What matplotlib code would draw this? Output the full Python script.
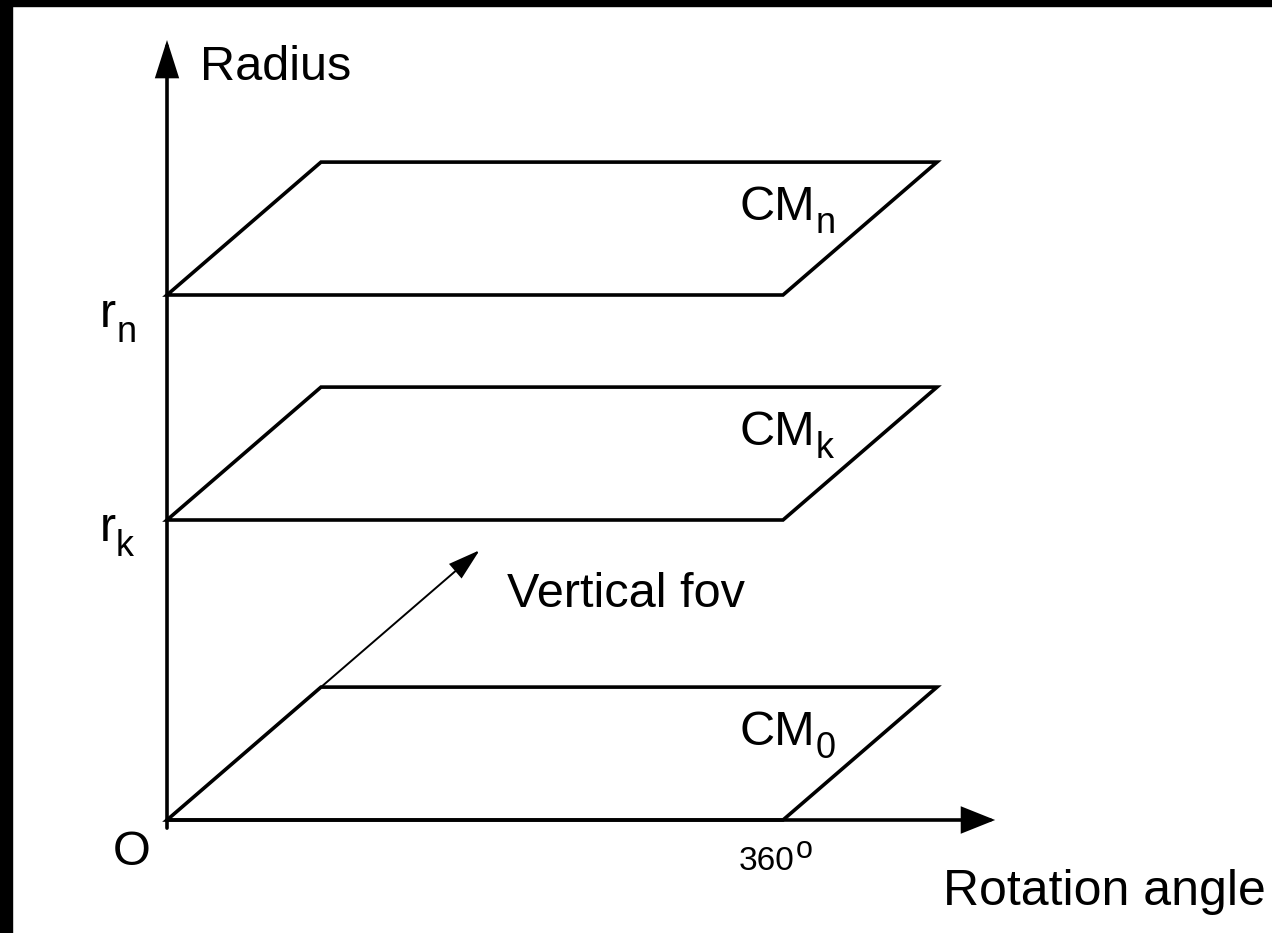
import matplotlib
matplotlib.use("Agg")
import matplotlib.pyplot as plt
from matplotlib.patches import Polygon, FancyArrowPatch, Rectangle

# ---------------- data ----------------
plane_main = ["CM", "CM", "CM"]
plane_subs = ["0", "k", "n"]
plane_radius = [0.0, 1.0, 1.75]          # radius level of each cube map plane
radius_tick_subs = ["k", "n"]
radius_tick_values = [1.0, 1.75]
angle_span = 360                          # rotation angle covered by each plane
fov_depth = (90.0, 0.443)                 # vertical fov direction (deg, radius units)
fov_arrow_scale = 2.03                    # length of the fov arrow in depth units
y_axis_top = 2.6
x_axis_end = 484
origin_label = "O"
angle_tick_label = "360"
x_label = "Rotation angle"
y_label = "Radius"
fov_label = "Vertical fov"

# ---------------- layout ----------------
W, H, DPI = 1272, 933, 100
X0_PX, Y0_PX = 167, 820
PX_PER_DEG, PX_PER_R = 1.7111, 300.0

plt.rcParams['font.family'] = ['Liberation Sans', 'DejaVu Sans']
fig = plt.figure(figsize=(W / DPI, H / DPI), dpi=DPI, facecolor="white")
ax = fig.add_axes([0, 0, 1, 1])
ax.set_xlim(-X0_PX / PX_PER_DEG, (W - X0_PX) / PX_PER_DEG)
ax.set_ylim((Y0_PX - H) / PX_PER_R, Y0_PX / PX_PER_R)
ax.axis("off")

LW = 2.6
BIG, SUB = 35, 26

# black frame strips (left and top)
fig.patches.append(Rectangle((0, 0), 12 / W, 1, transform=fig.transFigure,
                             color="black", zorder=10))
fig.patches.append(Rectangle((0, 1 - 6 / H), 1, 6 / H, transform=fig.transFigure,
                             color="black", zorder=10))


def arrow(p0, p1, lw, hl, hw):
    a = FancyArrowPatch(p0, p1, arrowstyle=f"-|>,head_length={hl},head_width={hw}",
                        mutation_scale=1, lw=lw, color="black",
                        shrinkA=0, shrinkB=0, joinstyle="miter", zorder=5)
    ax.add_patch(a)


# axes
arrow((0, -0.027), (0, y_axis_top), LW, 22, 7.0)
arrow((0, 0), (x_axis_end, 0), LW, 20, 8)

# planes
dx, dy = fov_depth
for r in plane_radius:
    pts = [(0, r), (angle_span, r), (angle_span + dx, r + dy), (dx, r + dy)]
    ax.add_patch(Polygon(pts, closed=True, fill=False, lw=LW, ec="black",
                         joinstyle="miter", zorder=4))

# vertical fov arrow
arrow((0, 0), (dx * fov_arrow_scale, dy * fov_arrow_scale), 1.4, 20, 6)


def sub_label(main, sub, xy, off, drop, subsize=SUB):
    t = ax.annotate(main, xy=xy, xytext=off, textcoords="offset pixels",
                    fontsize=BIG, va="baseline", ha="left")
    ax.annotate(sub, xy=(1, 0), xycoords=t, xytext=(0, -drop),
                textcoords="offset pixels", fontsize=subsize,
                va="bottom", ha="left")


# plane labels
for m, s, r in zip(plane_main, plane_subs, plane_radius):
    sub_label(m, s, (angle_span + dx, r + dy), (-197, -58), 11)

# radius ticks
for s, r, boff in zip(radius_tick_subs, radius_tick_values, [-21, -32]):
    sub_label("r", s, (0, r), (-67, boff), 13)

# other labels
ax.annotate(origin_label, xy=(0, 0), xytext=(-35, -45), textcoords="offset pixels",
            fontsize=BIG, va="baseline", ha="center")
t360 = ax.annotate(angle_tick_label, xy=(angle_span, 0), xytext=(-44, -50),
                   textcoords="offset pixels", fontsize=24, va="baseline", ha="left")
ax.annotate("o", xy=(1, 0), xycoords=t360, xytext=(1, 12), textcoords="offset pixels",
            fontsize=22, va="bottom", ha="left")
ax.annotate(fov_label, xy=(dx * fov_arrow_scale, dy * fov_arrow_scale),
            xytext=(27, -57), textcoords="offset pixels",
            fontsize=BIG, va="baseline", ha="left")
fig.text(200 / W, 1 - 80 / H, y_label, fontsize=BIG, va="baseline", ha="left")
fig.text(943 / W, 1 - 905 / H, x_label, fontsize=36, va="baseline", ha="left")

fig.savefig("out.png", dpi=DPI, facecolor="white")
